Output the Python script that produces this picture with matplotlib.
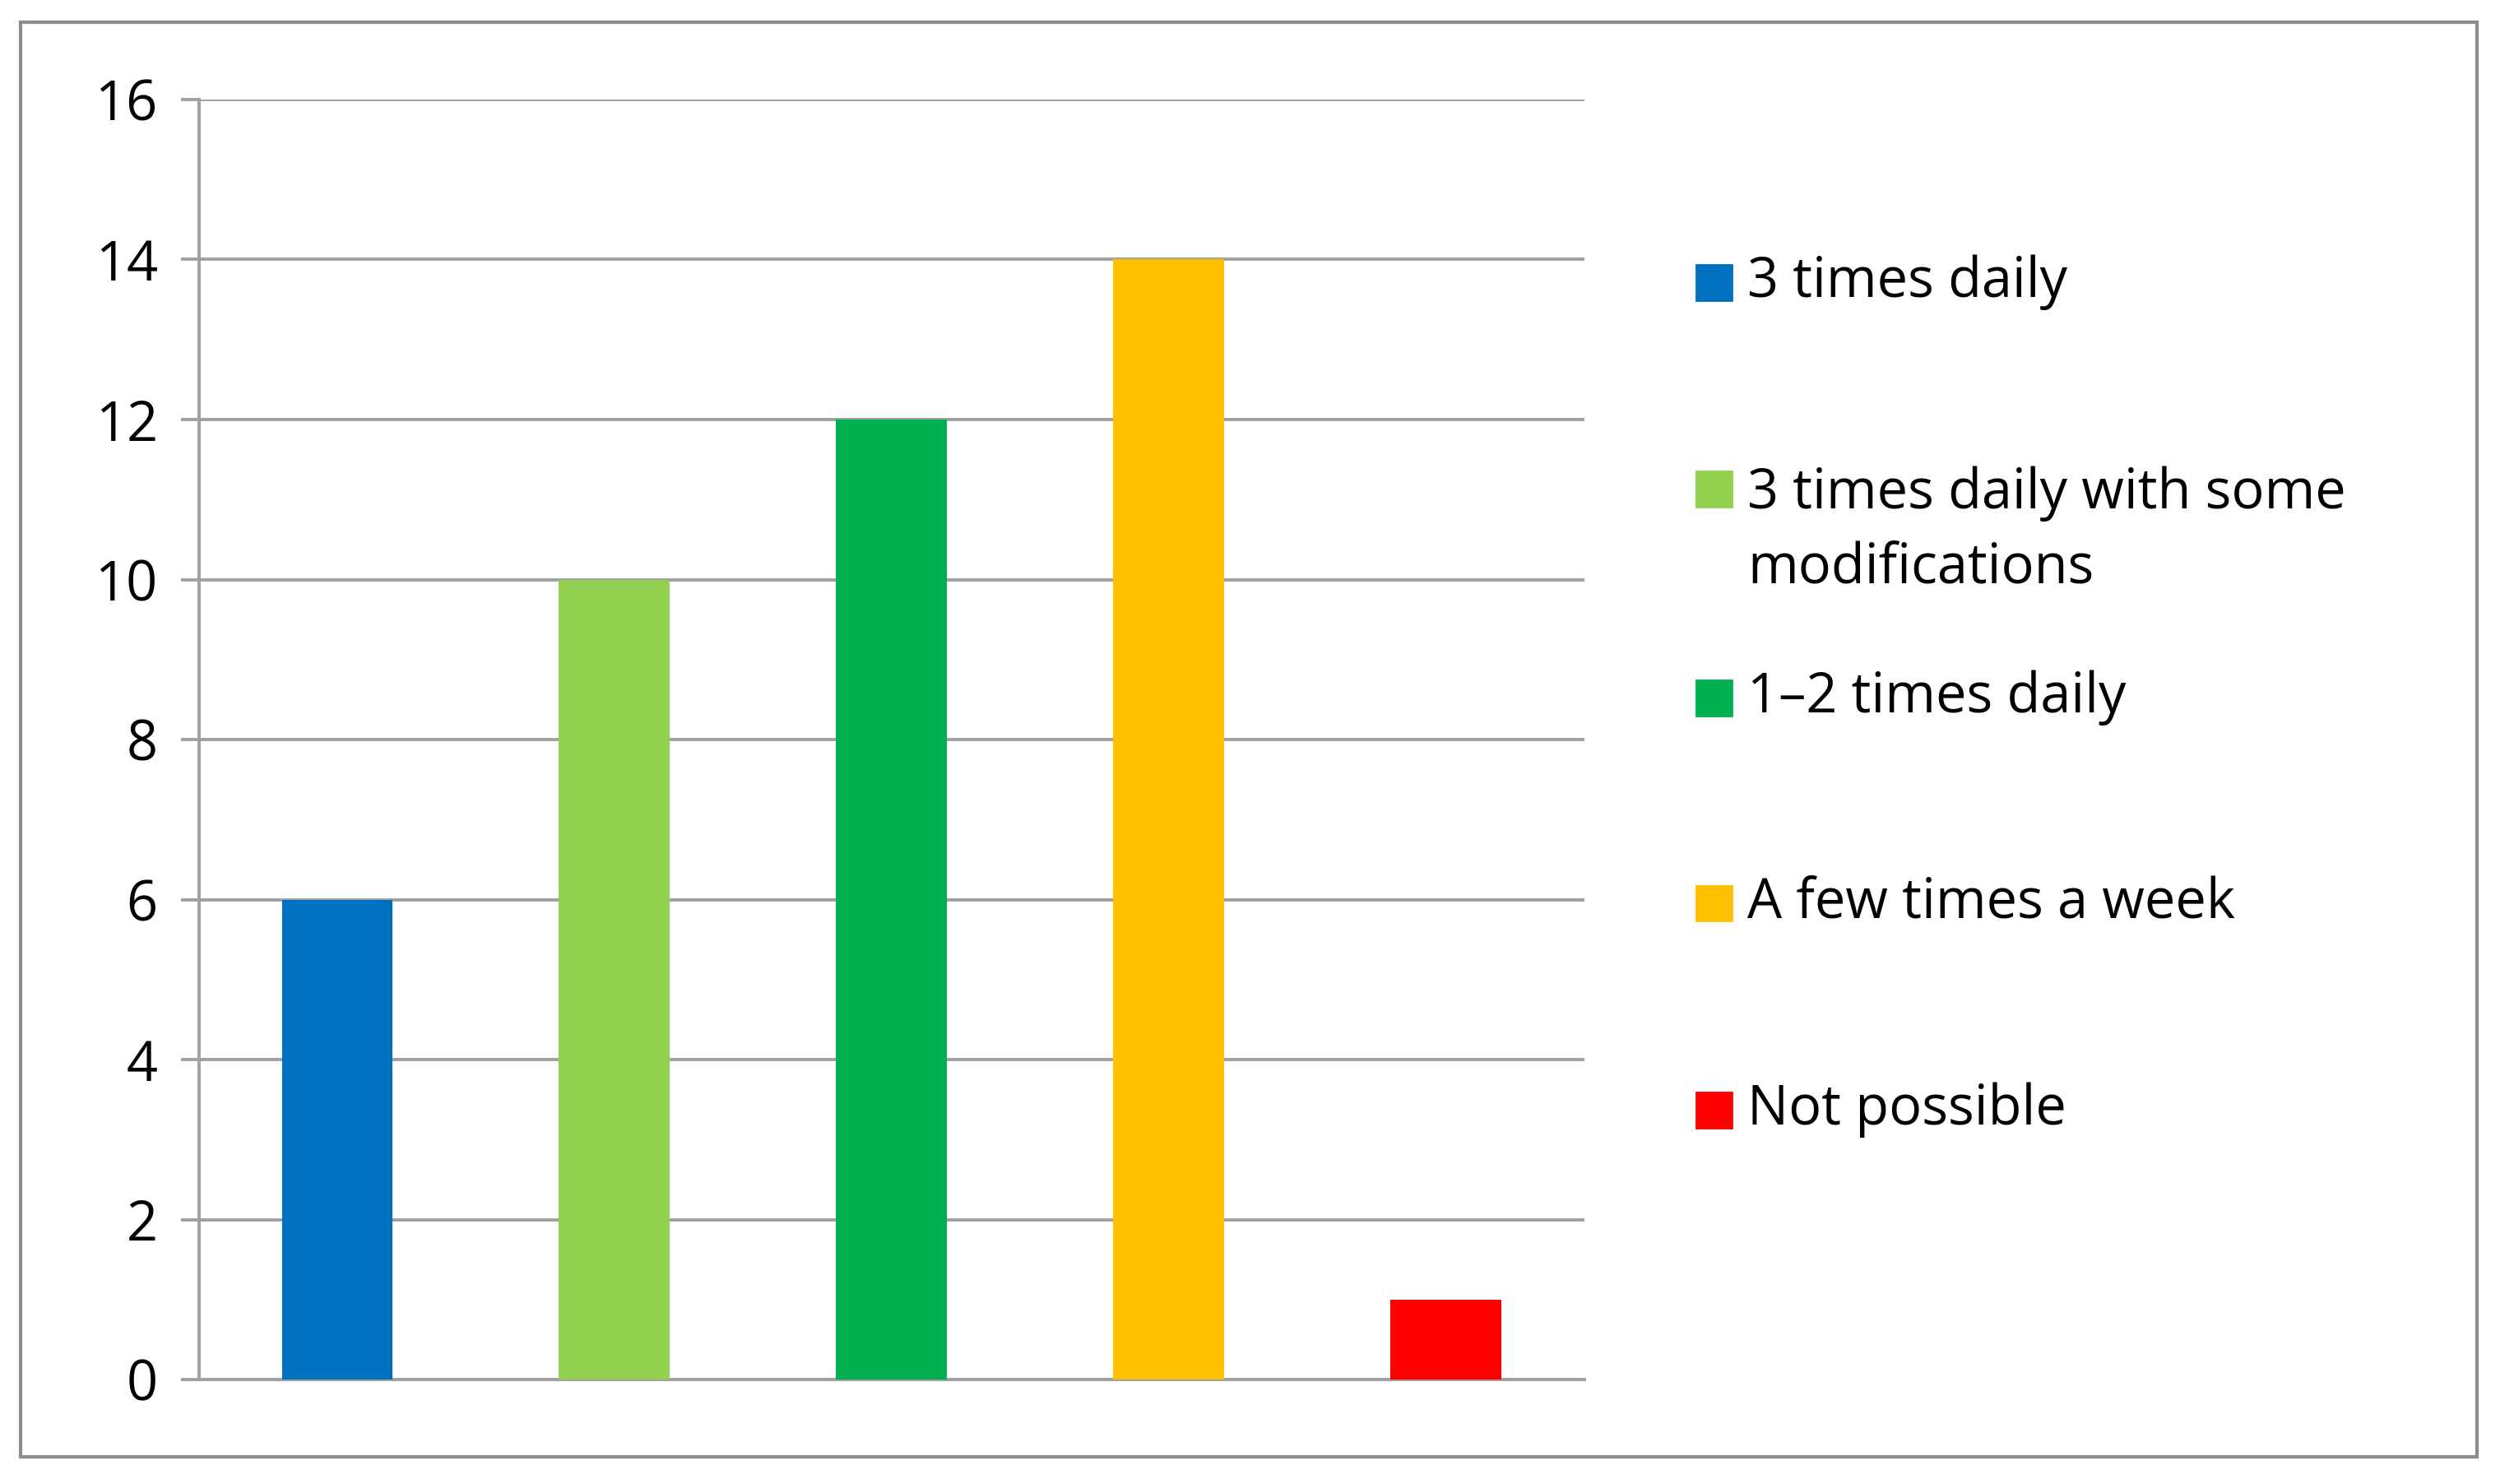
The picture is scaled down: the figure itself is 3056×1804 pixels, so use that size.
import matplotlib
matplotlib.use("Agg")
import matplotlib.pyplot as plt
from matplotlib.patches import Rectangle

categories = ["3 times daily", "3 times daily with some\nmodifications", "1\u20132 times daily", "A few times a week", "Not possible"]
values = [6, 10, 12, 14, 1]
colors = ["#0070C0", "#92D050", "#00B050", "#FFC000", "#FF0000"]
yticks = [0, 2, 4, 6, 8, 10, 12, 14, 16]

plt.rcParams['font.family'] = ['Open Sans', 'DejaVu Sans']
W, H = 1568, 925
fig = plt.figure(figsize=(15.28, 9.02), dpi=200)
fig.patches.append(Rectangle((13/W, 1-908/H), (1545-13)/W, (908-14)/H, transform=fig.transFigure,
                             fill=False, edgecolor="#8C8C8C", lw=1.5))
ax = fig.add_axes([124/W, 1-860/H, (988-124)/W, (860-62)/H])
x = list(range(len(values)))
ax.bar(x, values, width=0.4, color=colors, zorder=3)
ax.set_xlim(-0.5, 4.5)
ax.set_ylim(0, 16)
ax.set_yticks(yticks)
ax.set_xticks([])
ax.grid(axis='y', color="#A0A0A0", lw=1.4, zorder=0)
for s in ['top', 'right']:
    ax.spines[s].set_visible(False)
ax.spines['left'].set_color("#A0A0A0"); ax.spines['left'].set_linewidth(1.4)
ax.spines['bottom'].set_color("#A0A0A0"); ax.spines['bottom'].set_linewidth(1.4)
ax.tick_params(axis='y', length=8, width=1.4, color="#A0A0A0", labelsize=24, pad=10)

ys = [176, 331, 435, 563, 692]
for lab, c, y in zip(categories, colors, ys):
    sq_y = y if "\n" not in lab else 305
    fig.patches.append(Rectangle((1058/W, 1-(sq_y+11)/H), 22/W, 22/H, transform=fig.transFigure,
                                 color=c))
    fig.text(1090/W, 1-y/H, lab, fontsize=24, va='center', ha='left', linespacing=1.45)

fig.savefig("out.png", dpi=200)
